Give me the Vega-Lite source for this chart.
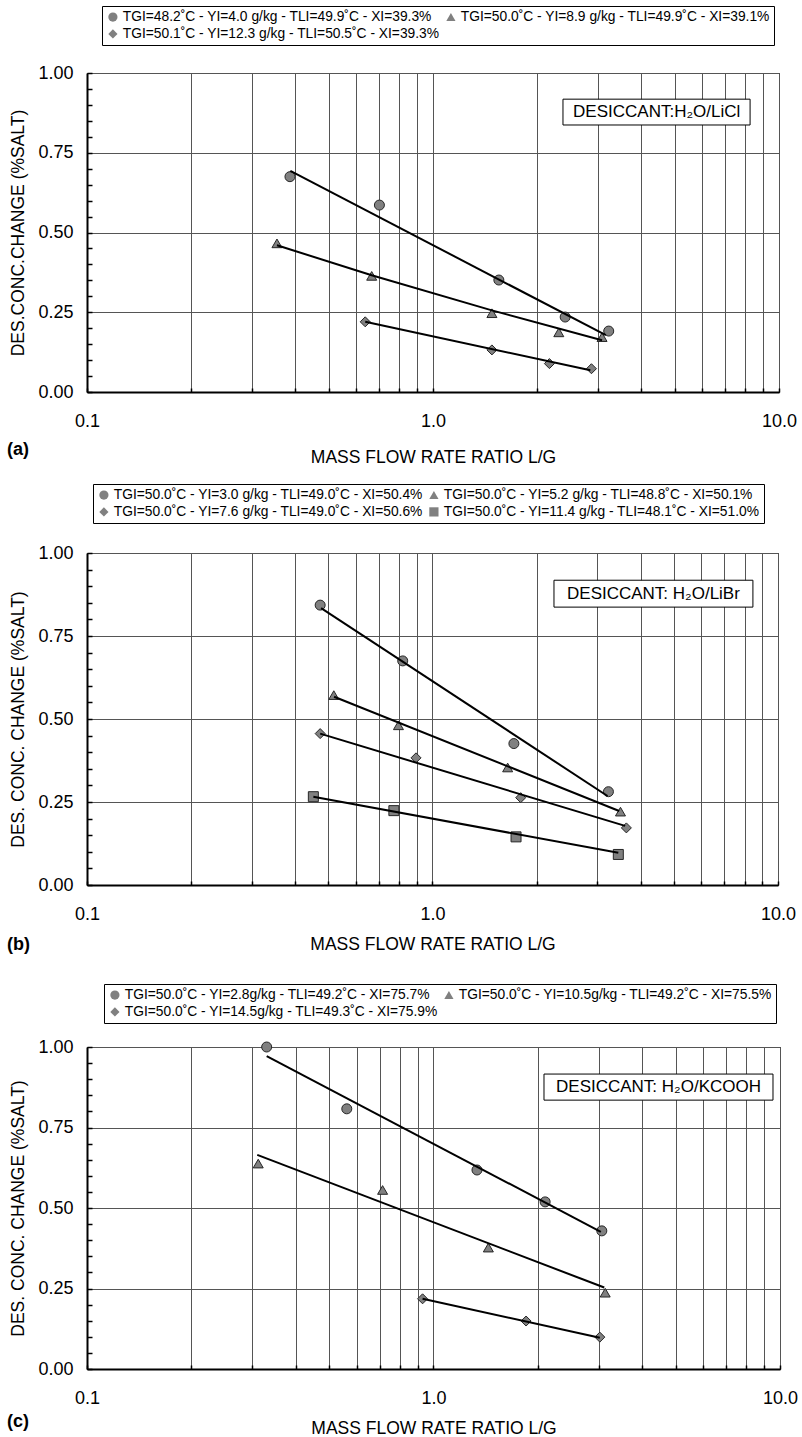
{
  "$schema": "https://vega.github.io/schema/vega-lite/v6.json",
  "background": "white",
  "padding": {"left": 6, "top": 5, "right": 0, "bottom": 0},
  "columns": 1,
  "spacing": 17,
  "align": "none",
  "config": {
    "font": "Liberation Sans",
    "view": {"stroke": "black", "strokeWidth": 1},
    "axis": {
      "labelFont": "Liberation Sans", "labelFontSize": 18, "labelColor": "black",
      "titleFont": "Liberation Sans", "titleFontSize": 17.5, "titleFontWeight": "normal", "titleColor": "black",
      "domainColor": "black", "domainWidth": 2, "tickColor": "black", "tickWidth": 1.5,
      "gridColor": "#555555", "gridWidth": 1, "labelOverlap": false
    },
    "legend": {
      "orient": "none", "direction": "horizontal", "columns": 2, "title": null,
      "strokeColor": "black", "fillColor": "white", "padding": 4,
      "labelFont": "Liberation Sans", "labelFontSize": 13.8, "labelColor": "black", "labelLimit": 1000,
      "columnPadding": 4, "rowPadding": 2, "symbolSize": 85, "symbolStrokeWidth": 1,
      "symbolFillColor": "#808080", "symbolStrokeColor": "#262626", "labelOffset": 3
    },
    "title": {"font": "Liberation Sans", "fontSize": 18, "fontWeight": "bold", "color": "black"}
  },
  "datasets": {
    "pa": [
      {"series": "TGI=48.2˚C - YI=4.0 g/kg - TLI=49.9˚C - XI=39.3%", "L_G": 0.386, "dC": 0.675},
      {"series": "TGI=48.2˚C - YI=4.0 g/kg - TLI=49.9˚C - XI=39.3%", "L_G": 0.700, "dC": 0.586},
      {"series": "TGI=48.2˚C - YI=4.0 g/kg - TLI=49.9˚C - XI=39.3%", "L_G": 1.55, "dC": 0.351},
      {"series": "TGI=48.2˚C - YI=4.0 g/kg - TLI=49.9˚C - XI=39.3%", "L_G": 2.41, "dC": 0.235},
      {"series": "TGI=48.2˚C - YI=4.0 g/kg - TLI=49.9˚C - XI=39.3%", "L_G": 3.22, "dC": 0.191},
      {"series": "TGI=50.0˚C - YI=8.9 g/kg - TLI=49.9˚C - XI=39.1%", "L_G": 0.354, "dC": 0.466},
      {"series": "TGI=50.0˚C - YI=8.9 g/kg - TLI=49.9˚C - XI=39.1%", "L_G": 0.665, "dC": 0.364},
      {"series": "TGI=50.0˚C - YI=8.9 g/kg - TLI=49.9˚C - XI=39.1%", "L_G": 1.48, "dC": 0.247},
      {"series": "TGI=50.0˚C - YI=8.9 g/kg - TLI=49.9˚C - XI=39.1%", "L_G": 2.31, "dC": 0.187},
      {"series": "TGI=50.0˚C - YI=8.9 g/kg - TLI=49.9˚C - XI=39.1%", "L_G": 3.08, "dC": 0.172},
      {"series": "TGI=50.1˚C - YI=12.3 g/kg - TLI=50.5˚C - XI=39.3%", "L_G": 0.637, "dC": 0.220},
      {"series": "TGI=50.1˚C - YI=12.3 g/kg - TLI=50.5˚C - XI=39.3%", "L_G": 1.48, "dC": 0.132},
      {"series": "TGI=50.1˚C - YI=12.3 g/kg - TLI=50.5˚C - XI=39.3%", "L_G": 2.17, "dC": 0.089},
      {"series": "TGI=50.1˚C - YI=12.3 g/kg - TLI=50.5˚C - XI=39.3%", "L_G": 2.87, "dC": 0.073}
    ],
    "fa": [
      {"series": "c", "L_G": 0.387, "dC": 0.693},
      {"series": "c", "L_G": 3.16, "dC": 0.178},
      {"series": "t", "L_G": 0.354, "dC": 0.460},
      {"series": "t", "L_G": 0.665, "dC": 0.366},
      {"series": "t", "L_G": 1.48, "dC": 0.256},
      {"series": "t", "L_G": 3.08, "dC": 0.162},
      {"series": "d", "L_G": 0.637, "dC": 0.220},
      {"series": "d", "L_G": 2.85, "dC": 0.068}
    ],
    "ba": [{"L_G": 2.375, "L_G2": 8.25, "dC": 0.918, "dC2": 0.837}],
    "ta": [{"label": "DESICCANT:H₂O/LiCl", "L_G": 4.43, "dC": 0.8775}],
    "pb": [
      {"series": "TGI=50.0˚C - YI=3.0 g/kg - TLI=49.0˚C - XI=50.4%", "L_G": 0.473, "dC": 0.843},
      {"series": "TGI=50.0˚C - YI=3.0 g/kg - TLI=49.0˚C - XI=50.4%", "L_G": 0.820, "dC": 0.675},
      {"series": "TGI=50.0˚C - YI=3.0 g/kg - TLI=49.0˚C - XI=50.4%", "L_G": 1.72, "dC": 0.426},
      {"series": "TGI=50.0˚C - YI=3.0 g/kg - TLI=49.0˚C - XI=50.4%", "L_G": 3.23, "dC": 0.281},
      {"series": "TGI=50.0˚C - YI=5.2 g/kg - TLI=48.8˚C - XI=50.1%", "L_G": 0.518, "dC": 0.572},
      {"series": "TGI=50.0˚C - YI=5.2 g/kg - TLI=48.8˚C - XI=50.1%", "L_G": 0.797, "dC": 0.481},
      {"series": "TGI=50.0˚C - YI=5.2 g/kg - TLI=48.8˚C - XI=50.1%", "L_G": 1.65, "dC": 0.354},
      {"series": "TGI=50.0˚C - YI=5.2 g/kg - TLI=48.8˚C - XI=50.1%", "L_G": 3.50, "dC": 0.221},
      {"series": "TGI=50.0˚C - YI=7.6 g/kg - TLI=49.0˚C - XI=50.6%", "L_G": 0.473, "dC": 0.456},
      {"series": "TGI=50.0˚C - YI=7.6 g/kg - TLI=49.0˚C - XI=50.6%", "L_G": 0.896, "dC": 0.383},
      {"series": "TGI=50.0˚C - YI=7.6 g/kg - TLI=49.0˚C - XI=50.6%", "L_G": 1.80, "dC": 0.263},
      {"series": "TGI=50.0˚C - YI=7.6 g/kg - TLI=49.0˚C - XI=50.6%", "L_G": 3.64, "dC": 0.172},
      {"series": "TGI=50.0˚C - YI=11.4 g/kg - TLI=48.1˚C - XI=51.0%", "L_G": 0.452, "dC": 0.266},
      {"series": "TGI=50.0˚C - YI=11.4 g/kg - TLI=48.1˚C - XI=51.0%", "L_G": 0.773, "dC": 0.224},
      {"series": "TGI=50.0˚C - YI=11.4 g/kg - TLI=48.1˚C - XI=51.0%", "L_G": 1.745, "dC": 0.145},
      {"series": "TGI=50.0˚C - YI=11.4 g/kg - TLI=48.1˚C - XI=51.0%", "L_G": 3.45, "dC": 0.092}
    ],
    "fb": [
      {"series": "c", "L_G": 0.476, "dC": 0.834},
      {"series": "c", "L_G": 3.21, "dC": 0.268},
      {"series": "t", "L_G": 0.519, "dC": 0.567},
      {"series": "t", "L_G": 3.47, "dC": 0.223},
      {"series": "d", "L_G": 0.473, "dC": 0.456},
      {"series": "d", "L_G": 3.61, "dC": 0.178},
      {"series": "s", "L_G": 0.452, "dC": 0.266},
      {"series": "s", "L_G": 3.45, "dC": 0.097}
    ],
    "bb": [{"L_G": 2.247, "L_G2": 8.46, "dC": 0.918, "dC2": 0.837}],
    "tb": [{"label": "DESICCANT: H₂O/LiBr", "L_G": 4.36, "dC": 0.8775}],
    "pc": [
      {"series": "TGI=50.0˚C - YI=2.8g/kg - TLI=49.2˚C - XI=75.7%", "L_G": 0.330, "dC": 1.0},
      {"series": "TGI=50.0˚C - YI=2.8g/kg - TLI=49.2˚C - XI=75.7%", "L_G": 0.562, "dC": 0.808},
      {"series": "TGI=50.0˚C - YI=2.8g/kg - TLI=49.2˚C - XI=75.7%", "L_G": 1.335, "dC": 0.618},
      {"series": "TGI=50.0˚C - YI=2.8g/kg - TLI=49.2˚C - XI=75.7%", "L_G": 2.10, "dC": 0.519},
      {"series": "TGI=50.0˚C - YI=2.8g/kg - TLI=49.2˚C - XI=75.7%", "L_G": 3.06, "dC": 0.429},
      {"series": "TGI=50.0˚C - YI=10.5g/kg - TLI=49.2˚C - XI=75.5%", "L_G": 0.312, "dC": 0.638},
      {"series": "TGI=50.0˚C - YI=10.5g/kg - TLI=49.2˚C - XI=75.5%", "L_G": 0.713, "dC": 0.556},
      {"series": "TGI=50.0˚C - YI=10.5g/kg - TLI=49.2˚C - XI=75.5%", "L_G": 1.44, "dC": 0.377},
      {"series": "TGI=50.0˚C - YI=10.5g/kg - TLI=49.2˚C - XI=75.5%", "L_G": 3.13, "dC": 0.237},
      {"series": "TGI=50.0˚C - YI=14.5g/kg - TLI=49.3˚C - XI=75.9%", "L_G": 0.930, "dC": 0.218},
      {"series": "TGI=50.0˚C - YI=14.5g/kg - TLI=49.3˚C - XI=75.9%", "L_G": 1.85, "dC": 0.149},
      {"series": "TGI=50.0˚C - YI=14.5g/kg - TLI=49.3˚C - XI=75.9%", "L_G": 3.02, "dC": 0.099}
    ],
    "fc": [
      {"series": "c", "L_G": 0.330, "dC": 0.972},
      {"series": "c", "L_G": 3.04, "dC": 0.426},
      {"series": "t", "L_G": 0.310, "dC": 0.665},
      {"series": "t", "L_G": 3.11, "dC": 0.253},
      {"series": "d", "L_G": 0.930, "dC": 0.218},
      {"series": "d", "L_G": 3.02, "dC": 0.097}
    ],
    "bc": [{"L_G": 2.084, "L_G2": 9.545, "dC": 0.916, "dC2": 0.835}],
    "tc": [{"label": "DESICCANT: H₂O/KCOOH", "L_G": 4.46, "dC": 0.8755}]
  },
  "resolve": {
    "scale": {"x": "independent", "y": "independent", "shape": "independent"},
    "legend": {"shape": "independent"}
  },
  "concat": [
    {
      "width": 692, "height": 319,
      "title": {"text": "(a)", "orient": "bottom", "anchor": "start", "frame": "group", "dx": -80, "dy": -29},
      "encoding": {
        "x": {"field": "L_G", "type": "quantitative", "scale": {"type": "log", "domain": [0.1, 10], "nice": false},
          "axis": {"values": [0.1, 0.2, 0.3, 0.4, 0.5, 0.6, 0.7, 0.8, 0.9, 1, 2, 3, 4, 5, 6, 7, 8, 9, 10], "grid": true,
            "labelExpr": "datum.value==0.1||datum.value==1||datum.value==10 ? format(datum.value,'.1f') : ''",
            "tickSize": -4, "labelPadding": 24, "labelFlush": false, "title": "MASS FLOW RATE RATIO L/G", "titlePadding": 18}},
        "y": {"field": "dC", "type": "quantitative", "scale": {"domain": [0, 1], "nice": false},
          "axis": {"values": [0, 0.05, 0.1, 0.15, 0.2, 0.25, 0.3, 0.35, 0.4, 0.45, 0.5, 0.55, 0.6, 0.65, 0.7, 0.75, 0.8, 0.85, 0.9, 0.95, 1], "grid": true,
            "gridOpacity": {"condition": {"test": "round(datum.value*100)%25===0", "value": 1}, "value": 0},
            "labelExpr": "round(datum.value*100)%25===0 ? format(datum.value,'.2f') : ''",
            "tickSize": -5, "labelPadding": 19, "title": "DES.CONC.CHANGE (%SALT)", "titlePadding": 10}}
      },
      "layer": [
        {
          "data": {"name": "pa"},
          "mark": {"type": "point", "filled": true, "fill": "#808080", "stroke": "#262626", "strokeWidth": 1, "size": 100, "opacity": 1},
          "encoding": {
            "shape": {"field": "series", "type": "nominal",
              "scale": {"domain": ["TGI=48.2˚C - YI=4.0 g/kg - TLI=49.9˚C - XI=39.3%", "TGI=50.0˚C - YI=8.9 g/kg - TLI=49.9˚C - XI=39.1%", "TGI=50.1˚C - YI=12.3 g/kg - TLI=50.5˚C - XI=39.3%"], "range": ["circle", "triangle-up", "diamond"]},
              "legend": {"legendX": 15, "legendY": -67}}
          }
        },
        {"data": {"name": "fa"}, "mark": {"type": "line", "color": "black", "strokeWidth": 2}, "encoding": {"detail": {"field": "series"}}},
        {"data": {"name": "ba"}, "mark": {"type": "rect", "fill": "white", "stroke": "black", "strokeWidth": 1}, "encoding": {"x2": {"field": "L_G2"}, "y2": {"field": "dC2"}}},
        {"data": {"name": "ta"}, "mark": {"type": "text", "fontSize": 17, "font": "Liberation Sans", "color": "black", "align": "center", "baseline": "middle"}, "encoding": {"text": {"field": "label"}}}
      ]
    },
    {
      "columns": 1,
      "spacing": 29,
      "align": "none",
      "resolve": {
        "scale": {"x": "independent", "y": "independent", "shape": "independent"},
        "legend": {"shape": "independent"}
      },
      "concat": [
        {
          "width": 691, "height": 332,
          "title": {"text": "(b)", "orient": "bottom", "anchor": "start", "frame": "group", "dx": -80, "dy": -21},
          "encoding": {
            "x": {"field": "L_G", "type": "quantitative", "scale": {"type": "log", "domain": [0.1, 10], "nice": false},
              "axis": {"values": [0.1, 0.2, 0.3, 0.4, 0.5, 0.6, 0.7, 0.8, 0.9, 1, 2, 3, 4, 5, 6, 7, 8, 9, 10], "grid": true,
                "labelExpr": "datum.value==0.1||datum.value==1||datum.value==10 ? format(datum.value,'.1f') : ''",
                "tickSize": -4, "labelPadding": 24, "labelFlush": false, "title": "MASS FLOW RATE RATIO L/G", "titlePadding": 12}},
            "y": {"field": "dC", "type": "quantitative", "scale": {"domain": [0, 1], "nice": false},
              "axis": {"values": [0, 0.05, 0.1, 0.15, 0.2, 0.25, 0.3, 0.35, 0.4, 0.45, 0.5, 0.55, 0.6, 0.65, 0.7, 0.75, 0.8, 0.85, 0.9, 0.95, 1], "grid": true,
                "gridOpacity": {"condition": {"test": "round(datum.value*100)%25===0", "value": 1}, "value": 0},
                "labelExpr": "round(datum.value*100)%25===0 ? format(datum.value,'.2f') : ''",
                "tickSize": -5, "labelPadding": 19, "title": "DES. CONC. CHANGE (%SALT)", "titlePadding": 10}}
          },
          "layer": [
            {
              "data": {"name": "pb"},
              "mark": {"type": "point", "filled": true, "fill": "#808080", "stroke": "#262626", "strokeWidth": 1, "size": 100, "opacity": 1},
              "encoding": {
                "shape": {"field": "series", "type": "nominal",
                  "scale": {"domain": ["TGI=50.0˚C - YI=3.0 g/kg - TLI=49.0˚C - XI=50.4%", "TGI=50.0˚C - YI=5.2 g/kg - TLI=48.8˚C - XI=50.1%", "TGI=50.0˚C - YI=7.6 g/kg - TLI=49.0˚C - XI=50.6%", "TGI=50.0˚C - YI=11.4 g/kg - TLI=48.1˚C - XI=51.0%"], "range": ["circle", "triangle-up", "diamond", "square"]},
                  "legend": {"legendX": 6, "legendY": -69}}
              }
            },
            {"data": {"name": "fb"}, "mark": {"type": "line", "color": "black", "strokeWidth": 2}, "encoding": {"detail": {"field": "series"}}},
            {"data": {"name": "bb"}, "mark": {"type": "rect", "fill": "white", "stroke": "black", "strokeWidth": 1}, "encoding": {"x2": {"field": "L_G2"}, "y2": {"field": "dC2"}}},
            {"data": {"name": "tb"}, "mark": {"type": "text", "fontSize": 17, "font": "Liberation Sans", "color": "black", "align": "center", "baseline": "middle"}, "encoding": {"text": {"field": "label"}}}
          ]
        },
        {
          "width": 693, "height": 322,
          "title": {"text": "(c)", "orient": "bottom", "anchor": "start", "frame": "group", "dx": -80, "dy": -28},
          "encoding": {
            "x": {"field": "L_G", "type": "quantitative", "scale": {"type": "log", "domain": [0.1, 10], "nice": false},
              "axis": {"values": [0.1, 0.2, 0.3, 0.4, 0.5, 0.6, 0.7, 0.8, 0.9, 1, 2, 3, 4, 5, 6, 7, 8, 9, 10], "grid": true,
                "labelExpr": "datum.value==0.1||datum.value==1||datum.value==10 ? format(datum.value,'.1f') : ''",
                "tickSize": -4, "labelPadding": 24, "labelFlush": false, "title": "MASS FLOW RATE RATIO L/G", "titlePadding": 12}},
            "y": {"field": "dC", "type": "quantitative", "scale": {"domain": [0, 1], "nice": false},
              "axis": {"values": [0, 0.05, 0.1, 0.15, 0.2, 0.25, 0.3, 0.35, 0.4, 0.45, 0.5, 0.55, 0.6, 0.65, 0.7, 0.75, 0.8, 0.85, 0.9, 0.95, 1], "grid": true,
                "gridOpacity": {"condition": {"test": "round(datum.value*100)%25===0", "value": 1}, "value": 0},
                "labelExpr": "round(datum.value*100)%25===0 ? format(datum.value,'.2f') : ''",
                "tickSize": -5, "labelPadding": 19, "title": "DES. CONC. CHANGE (%SALT)", "titlePadding": 10}}
          },
          "layer": [
            {
              "data": {"name": "pc"},
              "mark": {"type": "point", "filled": true, "fill": "#808080", "stroke": "#262626", "strokeWidth": 1, "size": 100, "opacity": 1},
              "encoding": {
                "shape": {"field": "series", "type": "nominal",
                  "scale": {"domain": ["TGI=50.0˚C - YI=2.8g/kg - TLI=49.2˚C - XI=75.7%", "TGI=50.0˚C - YI=10.5g/kg - TLI=49.2˚C - XI=75.5%", "TGI=50.0˚C - YI=14.5g/kg - TLI=49.3˚C - XI=75.9%"], "range": ["circle", "triangle-up", "diamond"]},
                  "legend": {"legendX": 17, "legendY": -63}}
              }
            },
            {"data": {"name": "fc"}, "mark": {"type": "line", "color": "black", "strokeWidth": 2}, "encoding": {"detail": {"field": "series"}}},
            {"data": {"name": "bc"}, "mark": {"type": "rect", "fill": "white", "stroke": "black", "strokeWidth": 1}, "encoding": {"x2": {"field": "L_G2"}, "y2": {"field": "dC2"}}},
            {"data": {"name": "tc"}, "mark": {"type": "text", "fontSize": 17, "font": "Liberation Sans", "color": "black", "align": "center", "baseline": "middle"}, "encoding": {"text": {"field": "label"}}}
          ]
        }
      ]
    }
  ]
}
